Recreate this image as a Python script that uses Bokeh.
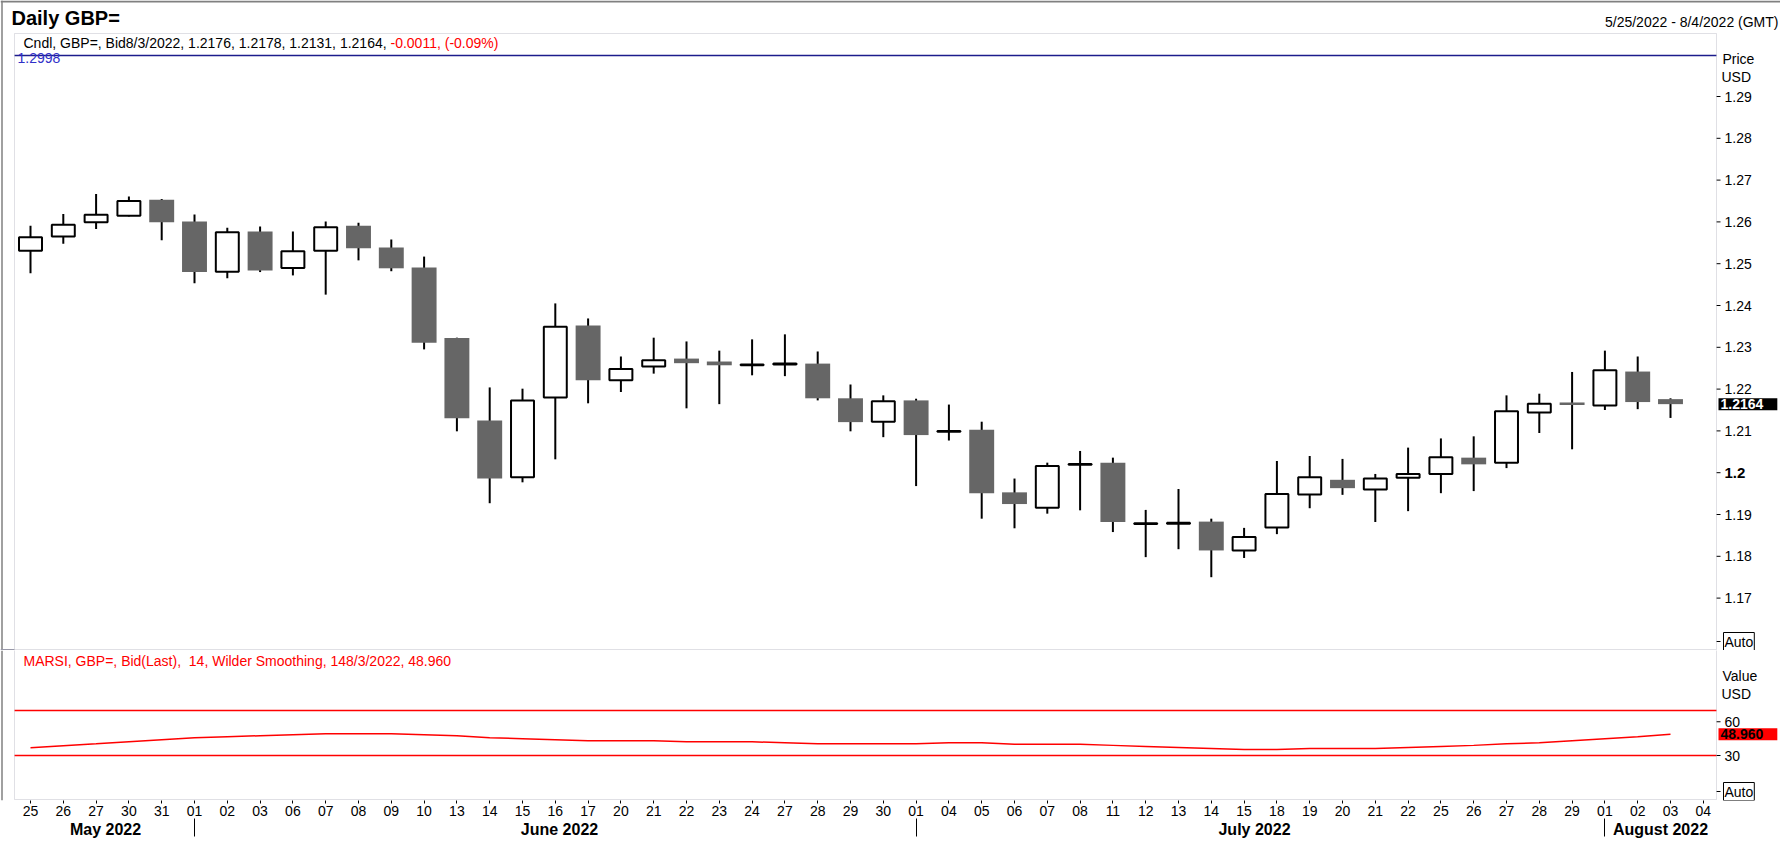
from bokeh.plotting import figure
from bokeh.models import Range1d, FixedTicker, LinearAxis, Label, BoxAnnotation, ColumnDataSource
from bokeh.core.properties import value
from bokeh.layouts import column
from bokeh.embed import file_html
from bokeh.resources import INLINE

# trading days shown on the axis (last slot "04" has no candle yet)
dates = ["25", "26", "27", "30", "31",
         "01", "02", "03", "06", "07", "08", "09", "10", "13", "14", "15", "16", "17",
         "20", "21", "22", "23", "24", "27", "28", "29", "30",
         "01", "04", "05", "06", "07", "08", "11", "12", "13", "14", "15", "18", "19",
         "20", "21", "22", "25", "26", "27", "28", "29",
         "01", "02", "03", "04"]

opens = [1.2531, 1.2565, 1.2599, 1.2615, 1.2653, 1.2601, 1.2481, 1.2577, 1.2490, 1.2531,
         1.2591, 1.2539, 1.2491, 1.2322, 1.2125, 1.1989, 1.2180, 1.2352, 1.2221, 1.2254,
         1.2273, 1.2266, 1.2257, 1.2259, 1.2261, 1.2178, 1.2122, 1.2173, 1.2098, 1.2103,
         1.1953, 1.1916, 1.2019, 1.2024, 1.1877, 1.1878, 1.1883, 1.1814, 1.1869, 1.1948,
         1.1983, 1.1960, 1.1988, 1.1997, 1.2036, 1.2024, 1.2144, 1.2168, 1.2161, 1.2242,
         1.2176]
highs = [1.2591, 1.2619, 1.2667, 1.2661, 1.2655, 1.2618, 1.2586, 1.2589, 1.2577, 1.2601,
         1.2598, 1.2558, 1.2517, 1.2323, 1.2204, 1.2201, 1.2405, 1.2369, 1.2278, 1.2323,
         1.2314, 1.2292, 1.2319, 1.2331, 1.2290, 1.2211, 1.2185, 1.2177, 1.2163, 1.2122,
         1.1986, 1.2024, 1.2052, 1.2036, 1.1911, 1.1961, 1.1890, 1.1868, 1.2028, 1.2040,
         1.2033, 1.1997, 1.2060, 1.2082, 1.2087, 1.2185, 1.2189, 1.2241, 1.2292, 1.2278,
         1.2178]
lows = [1.2477, 1.2548, 1.2583, 1.2613, 1.2556, 1.2453, 1.2465, 1.2480, 1.2472, 1.2426,
        1.2508, 1.2482, 1.2295, 1.2099, 1.1927, 1.1977, 1.2032, 1.2166, 1.2193, 1.2237,
        1.2154, 1.2164, 1.2233, 1.2231, 1.2173, 1.2099, 1.2085, 1.1968, 1.2077, 1.1890,
        1.1867, 1.1902, 1.1910, 1.1858, 1.1798, 1.1817, 1.1750, 1.1796, 1.1853, 1.1915,
        1.1947, 1.1882, 1.1908, 1.1951, 1.1956, 1.2011, 1.2095, 1.2056, 1.2150, 1.2152,
        1.2131]
closes = [1.2563, 1.2593, 1.2617, 1.2650, 1.2599, 1.2480, 1.2575, 1.2484, 1.2530, 1.2587,
          1.2537, 1.2489, 1.2311, 1.2130, 1.1986, 1.2173, 1.2349, 1.2221, 1.2248, 1.2269,
          1.2262, 1.2257, 1.2259, 1.2261, 1.2178, 1.2121, 1.2171, 1.2090, 1.2100, 1.1951,
          1.1925, 1.2016, 1.2021, 1.1882, 1.1879, 1.1880, 1.1814, 1.1846, 1.1949, 1.1989,
          1.1963, 1.1986, 1.1997, 1.2037, 1.2020, 1.2147, 1.2165, 1.2162, 1.2245, 1.2169,
          1.2164]

rsi = [36.9, 38.7, 40.4, 42.2, 44.0, 45.8, 46.7, 47.6, 48.5, 49.4,
       49.4, 49.4, 48.5, 47.6, 45.8, 44.9, 44.0, 43.1, 43.1, 43.1,
       42.2, 42.2, 42.2, 41.3, 40.4, 40.4, 40.4, 40.4, 41.3, 41.3,
       39.9, 39.9, 39.9, 39.0, 38.1, 37.2, 36.3, 35.4, 35.4, 36.3,
       36.3, 36.3, 37.2, 38.1, 39.0, 40.4, 41.3, 43.1, 44.9, 46.7,
       48.96]

price_ticks = [1.17, 1.18, 1.19, 1.2, 1.21, 1.22, 1.23, 1.24, 1.25, 1.26, 1.27, 1.28, 1.29]
price_tick_labels = ["1.17", "1.18", "1.19", "1.2", "1.21", "1.22", "1.23", "1.24",
                     "1.25", "1.26", "1.27", "1.28", "1.29"]
rsi_ticks = [30, 60]
rsi_tick_labels = ["30", "60"]
rsi_bands = [70, 30]
ref_line = 1.2998

months = ["May 2022", "June 2022", "July 2022", "August 2022"]
month_starts = [5, 27, 48]

FONT = "Liberation Sans"
GRAY = "#9898a8"
EDGE = "#808080"
W = 1780


# helpers: pixel position in the reference picture -> data coords
def px(x):
    return (x - 30) / 32.8


def py(y):
    return 1.29 - (y - 96) / 4180


def ry(y):
    return 30 + (755 - y) / 1.125


def text(p, x, y, t, size="14px", color="black", style="normal", align="left",
         baseline="middle", **kw):
    p.add_layout(Label(x=x, y=y, text=t, text_font=FONT, text_font_size=size,
                       text_color=color, text_font_style=style, text_align=align,
                       text_baseline=baseline, **kw))


def right_axis(p, ticks, labels, auto_y, bold=None):
    n = len(ticks)
    p.segment(x0=[px(1716)] * (n + 1), y0=ticks + [auto_y], x1=[px(1720)] * (n + 1),
              y1=ticks + [auto_y], line_color="black", line_width=1)
    src = ColumnDataSource(dict(
        x=[px(1724)] * n, y=ticks, t=labels,
        style=["bold" if l == bold else "normal" for l in labels],
        size=["15px" if l == bold else "14px" for l in labels]))
    p.text(x="x", y="y", text="t", source=src, text_font=value(FONT),
           text_font_size="size", text_font_style="style", text_color="black",
           text_baseline="middle", text_align="left")
    text(p, px(1723), auto_y, "Auto", border_line_color="black", padding=1,
         background_fill_color="white")


xr = Range1d(px(0), px(W))

# ---------------- price panel ----------------
p = figure(width=W, height=650, x_range=xr, y_range=Range1d(py(650), py(0)),
           output_backend="svg", toolbar_location=None, x_axis_location=None,
           y_axis_location=None, min_border=0)
p.xgrid.visible = False
p.ygrid.visible = False
p.outline_line_color = None

# outer window edge (top and left) and the panel divider running to the edge
p.segment(x0=[px(0), px(1.5), px(0)], y0=[py(1), py(0), py(649)],
          x1=[px(W), px(1.5), px(14)], y1=[py(1), py(650), py(649)],
          line_color=[EDGE, EDGE, GRAY], line_width=[2, 1.5, 1])

idx = list(range(len(closes)))
up = [i for i in idx if closes[i] >= opens[i]]
dn = [i for i in idx if closes[i] < opens[i]]

p.segment(idx, highs, idx, lows, line_color="black", line_width=2)
up_src = ColumnDataSource(dict(x=up, top=[closes[i] for i in up], bottom=[opens[i] for i in up]))
dn_src = ColumnDataSource(dict(x=dn, top=[opens[i] for i in dn], bottom=[closes[i] for i in dn]))
p.vbar(x="x", top="top", bottom="bottom", width=0.70, source=up_src,
       fill_color="white", line_color="black", line_width=2)
p.vbar(x="x", top="top", bottom="bottom", width=0.76, source=dn_src,
       fill_color="#666666", line_color=None)

text(p, px(17), py(52), f"{ref_line:.4f}", color="#3030c8", baseline="top")
p.segment(x0=[px(14)], y0=[ref_line], x1=[px(1716)], y1=[ref_line],
          line_color="#1c1c8c", line_width=1.5)

p.add_layout(BoxAnnotation(left=px(14), right=px(1716), bottom=py(649), top=py(33),
                           fill_color=None, line_color=GRAY, line_width=1))

right_axis(p, price_ticks, price_tick_labels, py(641), bold="1.2")

text(p, px(11), py(17), "Daily GBP=", size="20px", style="bold")
text(p, px(1778), py(21), "5/25/2022 - 8/4/2022 (GMT)", align="right")
legend = (f"Cndl, GBP=, Bid8/3/2022, {opens[-1]:.4f}, {highs[-1]:.4f}, "
          f"{lows[-1]:.4f}, {closes[-1]:.4f}, ")
text(p, px(23), py(42), legend)
text(p, px(390), py(42), "-0.0011, (-0.09%)", color="#ff0000")

text(p, px(1722), py(58), "Price")
text(p, px(1721), py(76), "USD")
text(p, px(1718), closes[-1], f"{closes[-1]:.4f}", color="white", style="bold",
     background_fill_color="black", padding=(2, 14, 1, 1))

# ---------------- RSI panel ----------------
r = figure(width=W, height=204, x_range=xr, y_range=Range1d(ry(800), ry(650)),
           output_backend="svg", toolbar_location=None, y_axis_location=None,
           min_border_left=0, min_border_right=0, min_border_top=0, min_border_bottom=54)
r.xgrid.visible = False
r.ygrid.visible = False
r.outline_line_color = None

xa = r.xaxis[0]
xa.ticker = FixedTicker(ticks=list(range(len(dates))))
xa.major_label_overrides = {i: d for i, d in enumerate(dates)}
xa.axis_line_color = None
xa.major_tick_out = 3
xa.major_tick_in = 0
xa.major_tick_line_color = "black"
xa.minor_tick_out = 0
xa.minor_tick_in = 0
xa.major_label_standoff = 2
xa.major_label_text_font = FONT
xa.major_label_text_font_size = "14px"
xa.major_label_text_color = "black"

month_x = [px(105), px(559), px(1254), px(1660)]
sep = LinearAxis(ticker=FixedTicker(ticks=month_x, minor_ticks=month_starts),
                 axis_line_color=None, major_tick_out=18, major_tick_in=0,
                 major_tick_line_color=None,
                 minor_tick_out=18, minor_tick_in=0, minor_tick_line_color="black",
                 major_label_standoff=-16, major_label_text_font=FONT,
                 major_label_text_font_size="16px", major_label_text_font_style="bold",
                 major_label_text_color="black",
                 major_label_overrides=dict(zip(month_x, months)))
r.add_layout(sep, "below")

r.segment(x0=[px(1.5)], y0=[ry(650)], x1=[px(1.5)], y1=[ry(800)],
          line_color=EDGE, line_width=1.5)

nb = len(rsi_bands)
r.segment(x0=[px(14)] * nb, y0=rsi_bands, x1=[px(1716)] * nb, y1=rsi_bands,
          line_color="#ff0000", line_width=1.5)
r.line(idx, rsi, line_color="#ff0000", line_width=1.5)

r.add_layout(BoxAnnotation(left=px(14), right=px(1716), bottom=ry(799), top=ry(649),
                           fill_color=None, line_color=GRAY, line_width=1))

right_axis(r, rsi_ticks, rsi_tick_labels, ry(791))

text(r, px(23), ry(660),
     f"MARSI, GBP=, Bid(Last),\u00a0 14, Wilder Smoothing, 148/3/2022, {rsi[-1]:.3f}",
     color="#ff0000")
text(r, px(1722), ry(675), "Value")
text(r, px(1721), ry(693), "USD")
text(r, px(1718), rsi[-1], f"{rsi[-1]:.3f}", style="bold",
     background_fill_color="#ff0000", padding=(2, 14, 1, 1))

layout = column(p, r)
open("out.html", "w").write(file_html(layout, INLINE))
